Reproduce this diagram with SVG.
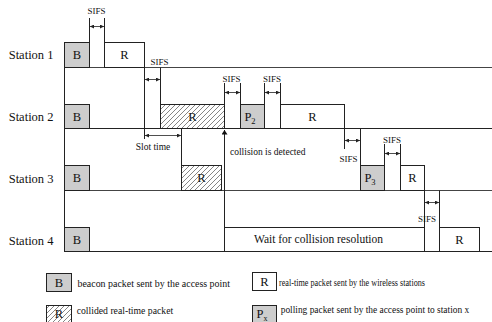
<svg xmlns="http://www.w3.org/2000/svg" width="492" height="322" viewBox="0 0 492 322">
<style>
text{font-family:"Liberation Serif","Times New Roman","DejaVu Serif",serif;fill:#111}
.st{font-size:12.5px}
.bx{font-size:12.5px;text-anchor:middle}
.sm{font-size:9px;text-anchor:middle}
.lg{font-size:10px}
.gray{fill:#cdcdcd;stroke:#222;stroke-width:1}
.wht{fill:#fff;stroke:#222;stroke-width:1}
.hat{fill:url(#hatch);stroke:#222;stroke-width:1}
.ln{stroke:#222;stroke-width:1;fill:none}
.base{stroke:#444;stroke-width:1.2;fill:none}
.arr{stroke:#222;stroke-width:0.8;fill:none;marker-start:url(#ah);marker-end:url(#ah)}
</style>
<defs>
<pattern id="hatch" patternUnits="userSpaceOnUse" width="5" height="5">
<path d="M-1,6 L6,-1 M-1,1 L1,-1 M4,6 L6,4" stroke="#333" stroke-width="0.6"/>
</pattern>
<marker id="ah" viewBox="0 0 6 6" refX="6" refY="3" markerWidth="4" markerHeight="4" orient="auto-start-reverse" markerUnits="userSpaceOnUse">
<path d="M0,0 L6,3 L0,6 z" fill="#222"/>
</marker>
<marker id="up" viewBox="0 0 6 8" refX="6" refY="4" markerWidth="7" markerHeight="6" orient="auto" markerUnits="userSpaceOnUse">
<path d="M0,0 L6,4 L0,8 z" fill="#111"/>
</marker>
</defs>

<g id="labels">
<text class="st" x="8.7" y="59">Station 1</text>
<text class="st" x="8.7" y="121">Station 2</text>
<text class="st" x="8.7" y="182.5">Station 3</text>
<text class="st" x="8.7" y="244.5">Station 4</text>
</g>

<g id="baselines">
<path class="ln" d="M64.5,42.5 V251.5"/>
<path class="base" d="M64.5,67.5 H492"/>
<path class="ln" d="M64.5,128.5 H492"/>
<path class="base" d="M64.5,190.5 H492"/>
<path class="ln" d="M64.5,251.5 H492"/>
</g>

<g id="station1">
<g id="s1-beacon"><rect class="gray" x="64.5" y="42.5" width="25" height="25"/><text class="bx" x="77" y="59">B</text></g>
<g id="s1-r"><rect class="wht" x="104.5" y="42.5" width="40" height="25"/><text class="bx" x="124.5" y="59">R</text></g>
</g>

<g id="station2">
<g id="s2-beacon"><rect class="gray" x="64.5" y="104.5" width="25" height="24"/><text class="bx" x="77" y="120.5">B</text></g>
<g id="s2-collided"><text class="bx" x="192.5" y="120.5">R</text><rect class="hat" x="160.5" y="104.5" width="64" height="24"/></g>
<g id="s2-p2"><rect class="gray" x="240.5" y="104.5" width="24" height="24"/><text class="bx" x="250" y="120.5">P<tspan font-size="8.5" dy="3">2</tspan></text></g>
<g id="s2-r"><rect class="wht" x="280.5" y="104.5" width="64" height="24"/><text class="bx" x="312.5" y="120.5">R</text></g>
</g>

<g id="station3">
<g id="s3-beacon"><rect class="gray" x="64.5" y="165.5" width="25" height="25"/><text class="bx" x="77" y="182">B</text></g>
<g id="s3-collided"><text class="bx" x="201.5" y="182">R</text><rect class="hat" x="181.5" y="165.5" width="40" height="25"/></g>
<g id="s3-p3"><rect class="gray" x="360.5" y="165.5" width="24" height="25"/><text class="bx" x="370" y="182">P<tspan font-size="8.5" dy="3">3</tspan></text></g>
<g id="s3-r"><rect class="wht" x="400.5" y="165.5" width="24" height="25"/><text class="bx" x="412.5" y="182">R</text></g>
</g>

<g id="station4">
<g id="s4-beacon"><rect class="gray" x="64.5" y="227.5" width="25" height="24"/><text class="bx" x="77" y="243.5">B</text></g>
<g id="s4-wait"><rect class="wht" x="224.5" y="227.5" width="200" height="24"/><text x="318.5" y="242.5" font-size="11.5" text-anchor="middle">Wait for collision resolution</text></g>
<g id="s4-r"><rect class="wht" x="439.5" y="227.5" width="40" height="24"/><text class="bx" x="459.5" y="243.5">R</text></g>
</g>

<g id="connectors">
<path class="ln" d="M89.5,18 V42.5 M104.5,18 V42.5"/>
<path class="arr" d="M90,26.5 H104"/>
<text class="sm" x="96.5" y="14">SIFS</text>
<path class="ln" d="M144.5,67.5 V139 M160.5,67.5 V104.5"/>
<path class="arr" d="M145,79.5 H160"/>
<text class="sm" x="159.5" y="65">SIFS</text>
<path class="ln" d="M181.5,128.5 V165.5"/>
<path class="arr" d="M145,135.5 H181"/>
<text x="153" y="150" font-size="9.5" text-anchor="middle">Slot time</text>
<path class="ln" d="M224.5,83 V104.5 M240.5,83 V104.5"/>
<path class="arr" d="M225,92.5 H240"/>
<text class="sm" x="231.5" y="82">SIFS</text>
<path class="ln" d="M264.5,83 V104.5 M280.5,83 V104.5"/>
<path class="arr" d="M265,92.5 H280"/>
<text class="sm" x="272" y="82">SIFS</text>
<path class="ln" d="M224.5,251.5 V130" stroke-width="1.2" marker-end="url(#up)"/>
<text x="230" y="155" font-size="9.5">collision is detected</text>
<path class="ln" d="M344.5,128.5 V149 M360.5,128.5 V165.5"/>
<path class="arr" d="M345,140.5 H360"/>
<text class="sm" x="348.5" y="162">SIFS</text>
<path class="ln" d="M384.5,144 V165.5 M400.5,144 V165.5"/>
<path class="arr" d="M385,153.5 H400"/>
<text class="sm" x="392" y="143">SIFS</text>
<path class="ln" d="M424.5,190.5 V251.5 M439.5,190.5 V227.5"/>
<path class="arr" d="M425,202.5 H439"/>
<text class="sm" x="427" y="221.5">SIFS</text>
</g>

<g id="legend">
<g id="lg-beacon"><rect class="gray" x="46.5" y="273.5" width="25" height="18"/><text class="bx" x="59" y="287">B</text>
<text class="lg" x="77.5" y="286.5" textLength="152.5" lengthAdjust="spacingAndGlyphs">beacon packet sent by the access point</text></g>
<g id="lg-collided"><text class="bx" x="59" y="318">R</text><rect class="hat" x="46.5" y="305.5" width="25" height="20"/>
<text class="lg" x="76.7" y="314" textLength="96.5" lengthAdjust="spacingAndGlyphs">collided real-time packet</text></g>
<g id="lg-r"><rect class="wht" x="252.5" y="272.5" width="24" height="18"/><text class="bx" x="264.5" y="286">R</text>
<text class="lg" x="279" y="286" textLength="146" lengthAdjust="spacingAndGlyphs">real-time packet sent by the wireless stations</text></g>
<g id="lg-px"><rect class="gray" x="252.5" y="305.5" width="24" height="20"/><text class="bx" x="262" y="318">P<tspan font-size="8" dy="3">x</tspan></text>
<text class="lg" x="280.7" y="313" textLength="188.5" lengthAdjust="spacingAndGlyphs">polling packet sent by the access point to station x</text></g>
</g>
</svg>
